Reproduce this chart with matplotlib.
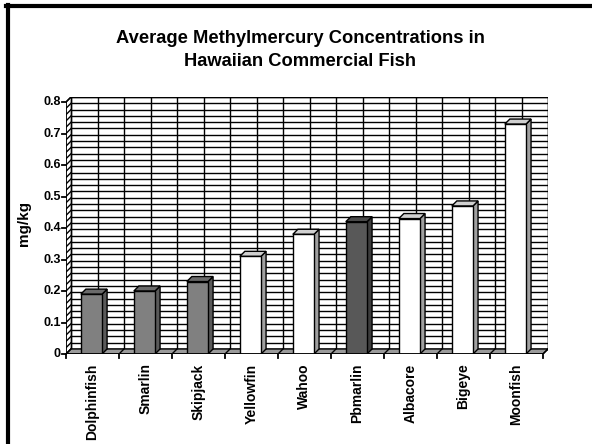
import numpy as np
import matplotlib
matplotlib.use("Agg")
import matplotlib.pyplot as plt
from matplotlib.patches import Polygon, Rectangle

plt.rcParams['font.family'] = ['Liberation Sans', 'DejaVu Sans']

fish = ['Dolphinfish', 'Smarlin', 'Skipjack', 'Yellowfin', 'Wahoo',
        'Pbmarlin', 'Albacore', 'Bigeye', 'Moonfish']
mercury = [0.19, 0.20, 0.23, 0.31, 0.38, 0.42, 0.43, 0.47, 0.73]
# front, side, top colours per bar
fronts = ['#808080'] * 3 + ['#ffffff'] * 2 + ['#585858'] + ['#ffffff'] * 3
sides = ['#5a5a5a'] * 3 + ['#a0a0a0'] * 2 + ['#3c3c3c'] + ['#a0a0a0'] * 3
tops = ['#6a6a6a'] * 3 + ['#d0d0d0'] * 2 + ['#4a4a4a'] + ['#d0d0d0'] * 3

n = len(fish)
ymax = 0.8
dx, dy = 0.095, 0.016   # 3D depth in data units

fig = plt.figure(figsize=(5.92, 4.44), dpi=100)
# front axis: x 66..543 px, y 354..102 px ; back wall adds dx/dy
L, R, B, T = 66, 548, 354, 97
ax = fig.add_axes([L / 592, (444 - B) / 444, (R - L) / 592, (B - T) / 444])
ax.set_xlim(0, n + dx)
ax.set_ylim(0, ymax + dy)
ax.axis('off')

lw = 1.0
# back wall
ax.add_patch(Rectangle((dx, dy), n, ymax, facecolor='white', edgecolor='black', lw=lw, zorder=1))
for g in np.arange(0, ymax + 1e-9, 0.02):
    ax.plot([dx, n + dx], [g + dy, g + dy], color='black', lw=lw, zorder=1)
    ax.plot([0, dx], [g, g + dy], color='black', lw=lw, zorder=1)
for g in np.arange(0, n + 1e-9, 0.5):
    ax.plot([g + dx, g + dx], [dy, ymax + dy], color='black', lw=lw, zorder=1)
# left side wall edge
ax.plot([0, dx], [ymax, ymax + dy], color='black', lw=lw, zorder=1)

# floor
ax.add_patch(Polygon([(0, 0), (n, 0), (n + dx, dy), (dx, dy)], closed=True,
                     facecolor='#9a9a9a', edgecolor='black', lw=lw, zorder=2))
for g in np.arange(0, n + 1e-9, 0.5):
    ax.plot([g, g + dx], [0, dy], color='black', lw=lw, zorder=2)

# bars
w = 0.40
for i, v in enumerate(mercury):
    x0 = i + 0.28
    ax.add_patch(Rectangle((x0, 0), w, v, facecolor=fronts[i], edgecolor='black', lw=lw, zorder=4))
    ax.add_patch(Polygon([(x0 + w, 0), (x0 + w + dx, dy), (x0 + w + dx, v + dy), (x0 + w, v)],
                         closed=True, facecolor=sides[i], edgecolor='black', lw=lw, zorder=3))
    ax.add_patch(Polygon([(x0, v), (x0 + w, v), (x0 + w + dx, v + dy), (x0 + dx, v + dy)],
                         closed=True, facecolor=tops[i], edgecolor='black', lw=lw, zorder=3))

# front axes lines
ax.plot([0, 0], [0, ymax], color='black', lw=1.3, zorder=5)
ax.plot([0, n], [0, 0], color='black', lw=1.3, zorder=5)
for t in np.arange(0, ymax + 1e-9, 0.1):
    ax.plot([-0.08, 0], [t, t], color='black', lw=1.3, zorder=5, clip_on=False)
    lab = '0' if t == 0 else f'{t:.1f}'
    ax.text(-0.1, t, lab, ha='right', va='center', fontsize=9, fontweight='bold', clip_on=False)
for k in range(n + 1):
    ax.plot([k, k], [0, -0.012], color='black', lw=1.3, zorder=5, clip_on=False)
for i, name in enumerate(fish):
    ax.text(i + 0.5, -0.03, name, rotation=90, ha='center', va='top',
            fontsize=10, fontweight='bold', clip_on=False)

ax.text(-0.8, ymax / 2 + 0.015, 'mg/kg', rotation=90, ha='center', va='center',
        fontsize=11, fontweight='bold', clip_on=False)

fig.text(300 / 592, 1 - 50 / 444, 'Average Methylmercury Concentrations in\nHawaiian Commercial Fish',
         ha='center', va='center', fontsize=13.2, fontweight='bold', linespacing=1.4)

# image border (left and top)
fig.add_artist(plt.Line2D([7.5 / 592, 7.5 / 592], [0, 1 - 5 / 444], color='black', lw=3,
                          transform=fig.transFigure))
fig.add_artist(plt.Line2D([6 / 592, 1], [1 - 6.5 / 444, 1 - 6.5 / 444], color='black', lw=3,
                          transform=fig.transFigure))

fig.savefig('out.png', dpi=100)
